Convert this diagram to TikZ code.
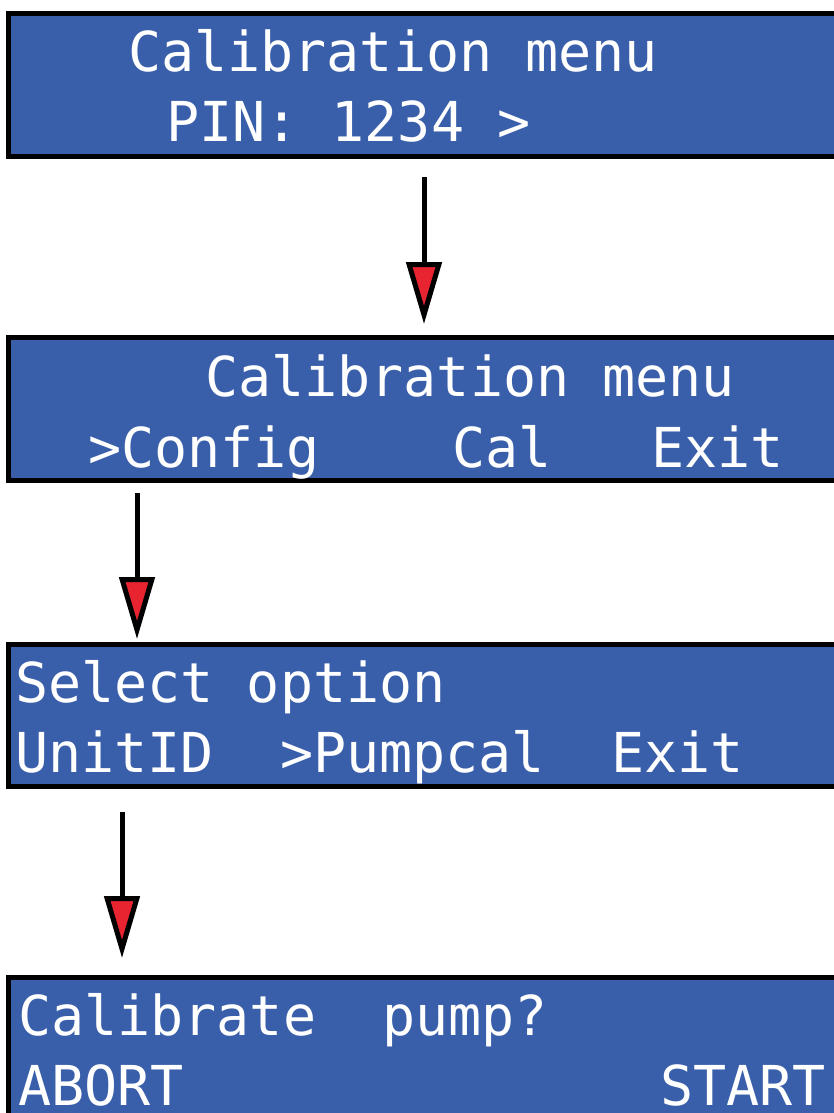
\documentclass[tikz,border=0pt]{standalone}
\usepackage{fontspec}
\newfontfamily\lcdfont{DejaVu Sans Mono}
\usetikzlibrary{positioning, arrows.meta}
\definecolor{lcdblue}{RGB}{58,95,170}
\definecolor{tipred}{RGB}{232,36,48}

\begin{document}
\begin{tikzpicture}[x=1pt, y=-1pt,
  lcd/.style={draw=black, fill=lcdblue, line width=5pt, rectangle, anchor=north west,
    minimum width=900pt, minimum height=143pt, inner sep=0pt},
  txt/.style={anchor=base west, inner sep=0pt, text=white,
    font=\lcdfont\fontsize{55}{55}\selectfont},
  flow/.style={line width=5pt, -{Triangle[length=62pt, width=35pt, line width=5pt, fill=tipred]}},
]
  \clip (0,0) rectangle (834,1113);

  % the four screens
  \node[lcd] (pinbox) at (6,11) {};
  \node[lcd, minimum height=142.5pt] (menubox) at (6,335) {};
  \node[lcd, minimum height=142pt] (optbox) at (6,642) {};
  \node[lcd] (pumpbox) at (6,975) {};

  % screen texts
  \node[txt] (pintitle) at (128,72) {Calibration~menu};
  \node[txt] (pin) at (166,142) {PIN:~1234~>};

  \node[txt] (menutitle) at (205,396) {Calibration~menu};
  \node[txt] (menuline) at (88,467) {>Config~~~~Cal~~~Exit};

  \node[txt] (opttitle) at (15,702) {Select~option};
  \node[txt] (optline) at (15,772) {UnitID~~>Pumpcal~~Exit};

  \node[txt] (pumptitle) at (18,1035) {Calibrate~~pump?};
  \node[txt] (abort) at (18,1105) {ABORT};
  \node[txt] (start) at (660,1105) {START};

  % arrows between screens
  \coordinate (s1) at (424,177);
  \coordinate (s2) at (137,493);
  \coordinate (s3) at (122,812);
  \draw[flow, shorten >=11pt] (s1) -- (s1 |- menubox.north);
  \draw[flow, shorten >=3pt] (s2) -- (s2 |- optbox.north);
  \draw[flow, shorten >=17pt] (s3) -- (s3 |- pumpbox.north);
\end{tikzpicture}
\end{document}
